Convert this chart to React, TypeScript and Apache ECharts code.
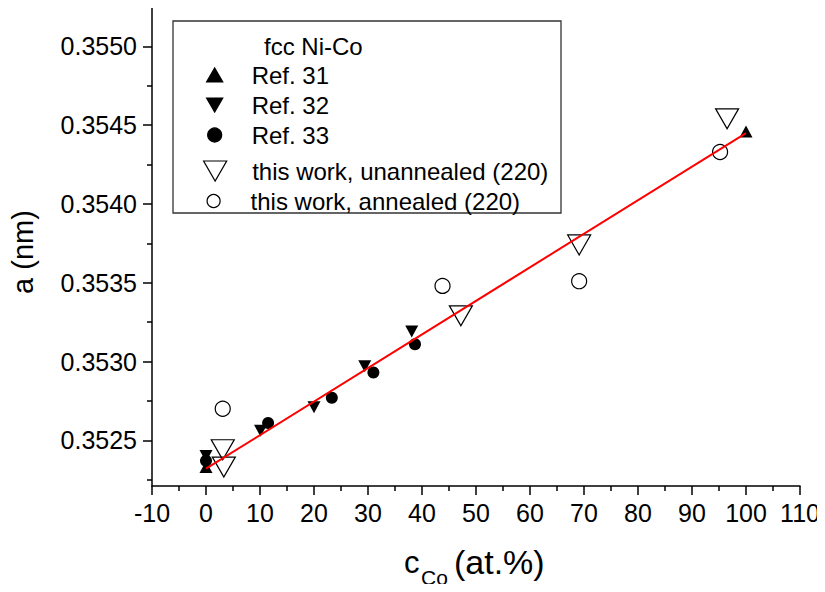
import React, { useEffect, useRef } from "react";
import * as echarts from "echarts";

// ---- data ----
const ref31X = [0, 100];
const ref31Y = [0.35233, 0.35446];
const ref32X = [0, 10.1, 20.0, 29.4, 38.1];
const ref32Y = [0.3524, 0.35256, 0.35271, 0.35297, 0.35319];
const ref33X = [0, 11.5, 23.3, 31.0, 38.7];
const ref33Y = [0.35237, 0.35261, 0.35277, 0.35293, 0.35311];
const unannX = [3.1, 3.3, 47.2, 69.1, 96.5];
const unannY = [0.35244, 0.35233, 0.35329, 0.35374, 0.35454];
const annX = [3.1, 43.8, 69.1, 95.2];
const annY = [0.3527, 0.35348, 0.35351, 0.35433];
const fitX = [0, 100];
const fitY = [0.35232, 0.35445];

const yMajorTicks = [0.3525, 0.353, 0.3535, 0.354, 0.3545, 0.355];
const yMinorTicks = [0.35225, 0.35275, 0.35325, 0.35375, 0.35425, 0.35475, 0.35525];

const seriesNames = [
  "Ref. 31",
  "Ref. 32",
  "Ref. 33",
  "this work, unannealed (220)",
  "this work, annealed (220)",
];

const zip = (xs: number[], ys: number[]) => xs.map((x, i) => [x, ys[i]]);

const FONT = "'Liberation Sans', Arial, sans-serif";
const DOWN = "path://M0,0L12,0L6,10.4Z";
const UP = "path://M0,10.4L12,10.4L6,0Z";

export default function App() {
  const ref = useRef<HTMLDivElement>(null);
  useEffect(() => {
    if (!ref.current) return;
    const chart = echarts.init(ref.current, null, { renderer: "svg" });
    const filled = { color: "#000", borderColor: "#000", borderWidth: 0, opacity: 1 };
    const open = { color: "rgba(0,0,0,0)", borderColor: "#000", borderWidth: 1.2, opacity: 1 };
    const legendBase = {
      orient: "vertical" as const,
      itemWidth: 64,
      itemGap: 6,
      padding: 0,
      selectedMode: false,
      symbolKeepAspect: true,
      textStyle: { fontSize: 24, fontFamily: FONT, color: "#000" },
      itemStyle: { borderWidth: 1.2, opacity: 1 },
    };
    chart.setOption({
      animation: false,
      backgroundColor: "#fff",
      grid: { left: 152, right: 25, top: 7, bottom: 106, containLabel: false },
      xAxis: {
        type: "value",
        min: -10,
        max: 110,
        interval: 10,
        axisLine: { show: true, onZero: false, lineStyle: { color: "#000", width: 1.5 } },
        axisTick: { show: true, inside: false, length: 9, lineStyle: { color: "#000", width: 1.5 } },
        minorTick: { show: true, splitNumber: 2, length: 5, lineStyle: { color: "#000", width: 1.5 } },
        axisLabel: { fontSize: 25, fontFamily: FONT, color: "#000", margin: 14 },
        splitLine: { show: false },
      },
      yAxis: [
        {
          type: "value",
          min: 0.35221,
          max: 0.35525,
          position: "left",
          axisLine: { show: true, onZero: false, lineStyle: { color: "#000", width: 1.5 } },
          axisTick: {
            show: true,
            inside: false,
            length: 9,
            customValues: yMajorTicks,
            lineStyle: { color: "#000", width: 1.5 },
          },
          axisLabel: {
            fontSize: 25,
            fontFamily: FONT,
            color: "#000",
            margin: 15,
            customValues: yMajorTicks,
            formatter: (v: number) => v.toFixed(4),
          },
          splitLine: { show: false },
        },
        {
          type: "value",
          min: 0.35221,
          max: 0.35525,
          position: "left",
          axisLine: { show: false, onZero: false },
          axisTick: {
            show: true,
            inside: false,
            length: 5,
            customValues: yMinorTicks,
            lineStyle: { color: "#000", width: 1.5 },
          },
          axisLabel: { show: false },
          splitLine: { show: false },
        },
      ],
      legend: [
        {
          ...legendBase,
          left: 206,
          top: 63,
          itemHeight: 14,
          data: [
            { name: seriesNames[0], icon: UP },
            { name: seriesNames[1], icon: DOWN },
            { name: seriesNames[2] },
          ],
        },
        {
          ...legendBase,
          left: 203,
          top: 159,
          itemHeight: 20,
          data: [{ name: seriesNames[3], icon: DOWN }],
        },
        {
          ...legendBase,
          left: 206.5,
          top: 189,
          itemHeight: 13,
          data: [{ name: seriesNames[4] }],
        },
      ],
      series: [
        {
          name: seriesNames[0],
          type: "scatter",
          symbol: UP,
          symbolSize: [13, 12],
          itemStyle: filled,
          data: zip(ref31X, ref31Y),
        },
        {
          name: seriesNames[1],
          type: "scatter",
          symbol: DOWN,
          symbolSize: [13, 12],
          itemStyle: filled,
          data: zip(ref32X, ref32Y),
        },
        {
          name: seriesNames[2],
          type: "scatter",
          symbol: "circle",
          symbolSize: 12,
          itemStyle: filled,
          data: zip(ref33X, ref33Y),
        },
        {
          name: seriesNames[3],
          type: "scatter",
          symbol: DOWN,
          symbolSize: [23, 20],
          itemStyle: open,
          data: zip(unannX, unannY),
        },
        {
          name: seriesNames[4],
          type: "scatter",
          symbol: "circle",
          symbolSize: 15,
          itemStyle: open,
          data: zip(annX, annY),
        },
        {
          name: "fit",
          type: "line",
          showSymbol: false,
          symbol: "none",
          lineStyle: { color: "#ff0000", width: 2 },
          data: zip(fitX, fitY),
          z: 5,
        },
      ],
      graphic: [
        {
          type: "rect",
          shape: { x: 173, y: 21, width: 388, height: 192 },
          style: { fill: "none", stroke: "#333", lineWidth: 1.3 },
          z: 1,
        },
        {
          type: "text",
          x: 264,
          y: 46,
          style: { text: "fcc Ni-Co", fontSize: 24, fontFamily: FONT, fill: "#000", align: "left", verticalAlign: "middle" },
        },
        {
          type: "text",
          x: 23,
          y: 252,
          rotation: Math.PI / 2,
          style: { text: "a (nm)", fontSize: 29, fontFamily: FONT, fill: "#000", align: "center", verticalAlign: "middle" },
        },
        {
          type: "text",
          x: 404,
          y: 562,
          style: { text: "c", fontSize: 31, fontFamily: FONT, fill: "#000", align: "left", verticalAlign: "middle" },
        },
        {
          type: "text",
          x: 421,
          y: 577,
          style: { text: "Co", fontSize: 21, fontFamily: FONT, fill: "#000", align: "left", verticalAlign: "middle" },
        },
        {
          type: "text",
          x: 454,
          y: 562,
          style: { text: "(at.%)", fontSize: 34, fontFamily: FONT, fill: "#000", align: "left", verticalAlign: "middle" },
        },
      ],
    });
    return () => chart.dispose();
  }, []);
  return <div ref={ref} style={{ width: 825, height: 592, margin: -8 }} />;
}
